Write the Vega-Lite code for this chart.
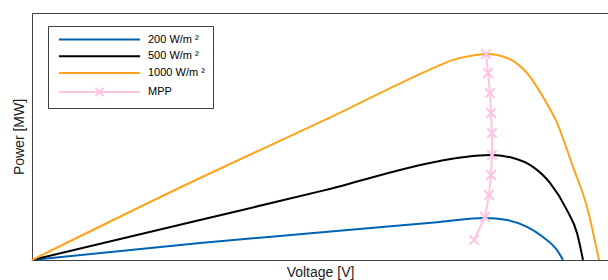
{
  "$schema": "https://vega.github.io/schema/vega-lite/v6.json",
  "width": 576,
  "height": 247,
  "autosize": {"type": "none"},
  "padding": {"left": 32, "top": 13, "right": 0, "bottom": 20},
  "config": {
    "view": {"stroke": "#404040", "strokeWidth": 1},
    "font": "Liberation Sans"
  },
  "data": {
    "values": [
      {"series": "200 W/m ²", "v": 0, "p": 0, "ord": 0},
      {"series": "200 W/m ²", "v": 29.17, "p": 0.069, "ord": 1},
      {"series": "200 W/m ²", "v": 50.87, "p": 0.113, "ord": 2},
      {"series": "200 W/m ²", "v": 70.83, "p": 0.154, "ord": 3},
      {"series": "200 W/m ²", "v": 78.65, "p": 0.170, "ord": 4},
      {"series": "200 W/m ²", "v": 82.47, "p": 0.162, "ord": 5},
      {"series": "200 W/m ²", "v": 85.94, "p": 0.134, "ord": 6},
      {"series": "200 W/m ²", "v": 88.72, "p": 0.093, "ord": 7},
      {"series": "200 W/m ²", "v": 91.15, "p": 0.040, "ord": 8},
      {"series": "200 W/m ²", "v": 92.19, "p": 0, "ord": 9},
      {"series": "500 W/m ²", "v": 0, "p": 0, "ord": 0},
      {"series": "500 W/m ²", "v": 29.17, "p": 0.162, "ord": 1},
      {"series": "500 W/m ²", "v": 50.87, "p": 0.283, "ord": 2},
      {"series": "500 W/m ²", "v": 70.83, "p": 0.401, "ord": 3},
      {"series": "500 W/m ²", "v": 75.17, "p": 0.417, "ord": 4},
      {"series": "500 W/m ²", "v": 79.51, "p": 0.425, "ord": 5},
      {"series": "500 W/m ²", "v": 83.51, "p": 0.413, "ord": 6},
      {"series": "500 W/m ²", "v": 86.98, "p": 0.377, "ord": 7},
      {"series": "500 W/m ²", "v": 89.93, "p": 0.312, "ord": 8},
      {"series": "500 W/m ²", "v": 92.88, "p": 0.202, "ord": 9},
      {"series": "500 W/m ²", "v": 94.62, "p": 0.109, "ord": 10},
      {"series": "500 W/m ²", "v": 95.66, "p": 0, "ord": 11},
      {"series": "1000 W/m ²", "v": 0, "p": 0, "ord": 0},
      {"series": "1000 W/m ²", "v": 29.17, "p": 0.332, "ord": 1},
      {"series": "1000 W/m ²", "v": 50.87, "p": 0.567, "ord": 2},
      {"series": "1000 W/m ²", "v": 70.83, "p": 0.789, "ord": 3},
      {"series": "1000 W/m ²", "v": 72.57, "p": 0.806, "ord": 4},
      {"series": "1000 W/m ²", "v": 76.04, "p": 0.826, "ord": 5},
      {"series": "1000 W/m ²", "v": 79.0, "p": 0.834, "ord": 6},
      {"series": "1000 W/m ²", "v": 82.47, "p": 0.818, "ord": 7},
      {"series": "1000 W/m ²", "v": 85.94, "p": 0.757, "ord": 8},
      {"series": "1000 W/m ²", "v": 88.72, "p": 0.660, "ord": 9},
      {"series": "1000 W/m ²", "v": 91.15, "p": 0.555, "ord": 10},
      {"series": "1000 W/m ²", "v": 93.92, "p": 0.377, "ord": 11},
      {"series": "1000 W/m ²", "v": 96.35, "p": 0.215, "ord": 12},
      {"series": "1000 W/m ²", "v": 98.44, "p": 0, "ord": 13},
      {"series": "MPP", "v": 76.74, "p": 0.081, "ord": 0},
      {"series": "MPP", "v": 78.65, "p": 0.174, "ord": 1},
      {"series": "MPP", "v": 79.34, "p": 0.263, "ord": 2},
      {"series": "MPP", "v": 79.69, "p": 0.344, "ord": 3},
      {"series": "MPP", "v": 79.86, "p": 0.425, "ord": 4},
      {"series": "MPP", "v": 79.86, "p": 0.514, "ord": 5},
      {"series": "MPP", "v": 79.69, "p": 0.595, "ord": 6},
      {"series": "MPP", "v": 79.51, "p": 0.676, "ord": 7},
      {"series": "MPP", "v": 79.17, "p": 0.757, "ord": 8},
      {"series": "MPP", "v": 78.82, "p": 0.834, "ord": 9}
    ]
  },
  "encoding": {
    "x": {
      "field": "v", "type": "quantitative",
      "scale": {"domain": [0, 100], "nice": false, "zero": true},
      "axis": {"title": "Voltage [V]", "labels": false, "ticks": false, "domain": false, "grid": false,
               "titleFontSize": 14, "titleFontWeight": "normal", "titlePadding": 5, "titleColor": "#222222"}
    },
    "y": {
      "field": "p", "type": "quantitative",
      "scale": {"domain": [0, 1], "nice": false},
      "axis": {"title": "Power [MW]", "labels": false, "ticks": false, "domain": false, "grid": false,
               "titleFontSize": 14, "titleFontWeight": "normal", "titlePadding": 6, "titleColor": "#222222"}
    },
    "color": {
      "field": "series", "type": "nominal",
      "scale": {"domain": ["200 W/m ²", "500 W/m ²", "1000 W/m ²", "MPP"],
                "range": ["#0062b0", "#000000", "#ffa31a", "#ffc4e1"]},
      "legend": {
        "orient": "none", "legendX": 16, "legendY": 13, "title": null,
        "symbolType": "stroke", "symbolSize": 66, "symbolStrokeWidth": 2,
        "labelFontSize": 11, "labelColor": "#000000", "labelOffset": 8,
        "strokeColor": "#404040", "fillColor": "#ffffff", "padding": 8, "rowPadding": 4.8,
        "encode": {
          "symbols": {"update": {
            "x": {"value": 43.5},
            "strokeWidth": {"value": 2},
            "shape": {"signal": "datum.value === 'MPP' ? 'M-10,0L10,0M-1,-1L1,1M-1,1L1,-1' : 'M-10,0L10,0'"}
          }},
          "labels": {"update": {"x": {"value": 92}}}
        }
      }
    },
    "order": {"field": "ord", "type": "quantitative"}
  },
  "layer": [
    {
      "transform": [{"filter": "datum.series !== 'MPP'"}],
      "mark": {"type": "line", "strokeWidth": 2, "interpolate": "monotone"}
    },
    {
      "transform": [{"filter": "datum.series === 'MPP'"}],
      "mark": {"type": "line", "strokeWidth": 2,
               "point": {"shape": "M-1,-1L1,1M-1,1L1,-1", "filled": false, "size": 90, "strokeWidth": 2}}
    }
  ]
}
